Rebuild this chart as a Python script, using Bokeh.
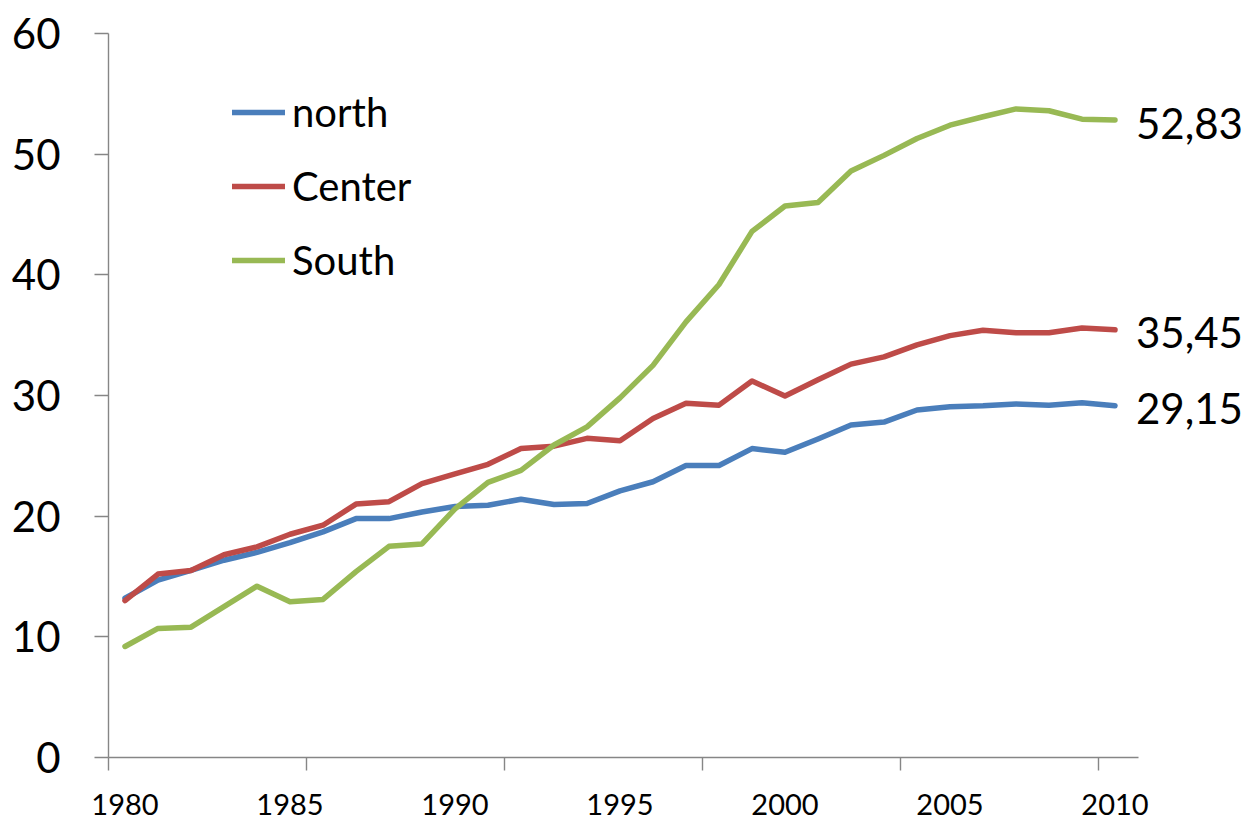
from bokeh.plotting import figure
from bokeh.models import Range1d, FixedTicker, Legend, LegendItem, ColumnDataSource
from bokeh.core.properties import value
from bokeh.embed import file_html
from bokeh.resources import INLINE

years = list(range(1980, 2011))
north = [13.2, 14.7, 15.5, 16.35, 17.0, 17.8, 18.7, 19.8, 19.8, 20.35, 20.8, 20.9, 21.4, 20.97, 21.05,
         22.1, 22.85, 24.2, 24.2, 25.6, 25.3, 26.4, 27.55, 27.8, 28.8, 29.07, 29.15, 29.3, 29.2, 29.4, 29.15]
center = [13.0, 15.2, 15.5, 16.8, 17.45, 18.5, 19.25, 21.0, 21.2, 22.7, 23.5, 24.3, 25.6, 25.8, 26.45,
          26.25, 28.1, 29.35, 29.2, 31.2, 29.96, 31.3, 32.6, 33.2, 34.2, 34.96, 35.4, 35.2, 35.2, 35.6, 35.45]
south = [9.2, 10.7, 10.8, 12.5, 14.2, 12.9, 13.1, 15.4, 17.5, 17.7, 20.6, 22.8, 23.8, 25.9, 27.4,
         29.8, 32.5, 36.1, 39.2, 43.6, 45.7, 46.0, 48.6, 49.9, 51.3, 52.4, 53.1, 53.75, 53.6, 52.9, 52.83]
series_names = ["north", "Center", "South"]
colors = ["#4A7EBB", "#BE4B48", "#98B954"]
x_tick_labels = [1980, 1985, 1990, 1995, 2000, 2005, 2010]
y_ticks = [0, 10, 20, 30, 40, 50, 60]

FONT = "Lato"
AXIS_COLOR = "#868686"

p = figure(frame_width=1135, frame_height=724,
           x_range=Range1d(years[0] - 0.5, years[0] - 0.5 + 1135 / 33.0),
           y_range=Range1d(0, 60),
           output_backend="svg", toolbar_location=None,
           min_border_left=108, min_border_right=0, min_border_top=33, min_border_bottom=62)
p.outline_line_color = None
p.grid.visible = False
p.background_fill_color = "white"
p.border_fill_color = "white"

# x axis
xa = p.xaxis[0]
xa.ticker = FixedTicker(ticks=x_tick_labels,
                        minor_ticks=[years[0] - 0.5 + 6 * k for k in range(6)])
xa.major_label_overrides = {t: str(t) for t in x_tick_labels}
xa.bounds = (years[0] - 0.5, years[-1] + 0.7)
xa.axis_line_color = AXIS_COLOR
xa.axis_line_width = 1.4
xa.major_tick_out = 0
xa.major_tick_in = 0
xa.minor_tick_out = 13
xa.minor_tick_in = 0
xa.minor_tick_line_color = AXIS_COLOR
xa.minor_tick_line_width = 1.4
xa.major_label_standoff = 23
xa.major_label_text_font = FONT
xa.major_label_text_font_size = "29px"
xa.major_label_text_color = "black"

# y axis
ya = p.yaxis[0]
ya.ticker = FixedTicker(ticks=y_ticks, minor_ticks=[])
ya.axis_line_color = AXIS_COLOR
ya.axis_line_width = 1.4
ya.major_tick_out = 14
ya.major_tick_in = 0
ya.major_tick_line_color = AXIS_COLOR
ya.major_tick_line_width = 1.4
ya.minor_tick_out = 0
ya.minor_tick_in = 0
ya.major_label_standoff = 34
ya.major_label_text_font = FONT
ya.major_label_text_font_size = "42px"
ya.major_label_text_color = "black"

renderers = []
for name, vals, col in zip(series_names, [north, center, south], colors):
    r = p.line(years, vals, line_color=col, line_width=5.5, line_join="round", line_cap="round")
    renderers.append(r)

# end labels
last_vals = [north[-1], center[-1], south[-1]]
src = ColumnDataSource(dict(x=[years[-1]] * 3, y=last_vals,
                            t=[f"{v:.2f}".replace(".", ",") for v in last_vals]))
p.text(x="x", y="y", text="t", source=src, x_offset=21, y_offset=3,
       text_font=value(FONT), text_font_size="42px", text_color="black",
       text_baseline="middle", text_align="left")

legend = Legend(items=[LegendItem(label=n, renderers=[r]) for n, r in zip(series_names, renderers)],
                location=(124, 460), orientation="vertical",
                glyph_width=53, glyph_height=74, spacing=0, padding=0, margin=0,
                label_standoff=7, label_text_font=FONT, label_text_font_size="40px",
                label_text_color="black", label_height=74,
                border_line_alpha=0, background_fill_alpha=0)
p.add_layout(legend, "center")

open("out.html", "w").write(file_html(p, INLINE))
